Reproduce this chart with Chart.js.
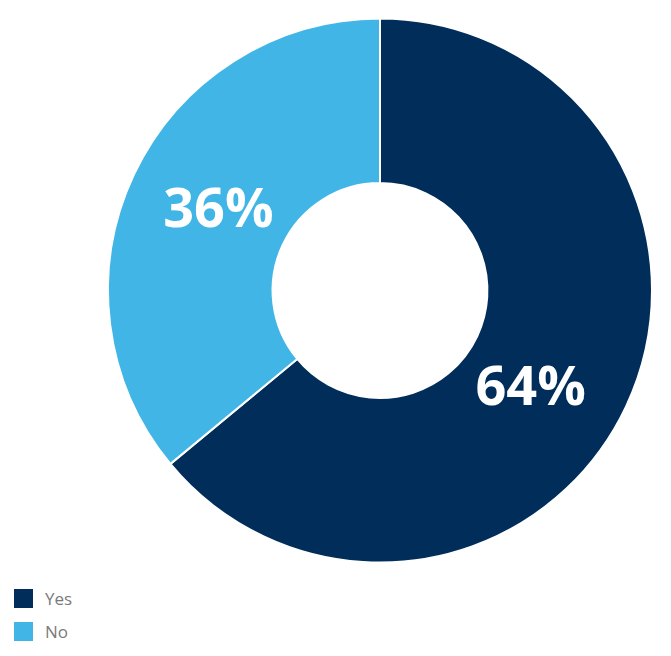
<!DOCTYPE html>
<html>
<head>
<meta charset="utf-8">
<script src="https://cdn.jsdelivr.net/npm/chart.js@4"></script>
<style>
  html, body { margin: 0; padding: 0; background: #fff; }
  #wrap { position: relative; width: 671px; height: 656px; }
  canvas { position: absolute; left: 0; top: 0; }
  #legend { position: absolute; left: 14px; top: 586px; font-family: "Open Sans", sans-serif; font-size: 17px; color: #7a7a7a; }
  .item { display: flex; align-items: center; height: 24px; margin-bottom: 9px; }
  .sw { width: 19px; height: 19px; margin-right: 12px; }
</style>
</head>
<body>
<div id="wrap">
  <canvas id="c" width="671" height="580"></canvas>
  <div id="legend"></div>
</div>
<script>
const categories = ["Yes", "No"];
const values = [64, 36];
const colors = ["#002d5a", "#41b6e6"];

const labelPlugin = {
  id: 'sliceLabels',
  afterDatasetsDraw(chart, args, opts) {
    const ctx = chart.ctx;
    const meta = chart.getDatasetMeta(0);
    const nudges = opts.nudges || [];
    ctx.save();
    ctx.fillStyle = '#ffffff';
    ctx.font = 'bold 54px "Open Sans", sans-serif';
    ctx.textAlign = 'center';
    ctx.textBaseline = 'middle';
    meta.data.forEach((arc, i) => {
      const p = arc.tooltipPosition();
      const n = nudges[i] || [0, 0];
      ctx.fillText(values[i] + '%', p.x + n[0], p.y + n[1]);
    });
    ctx.restore();
  }
};

new Chart(document.getElementById('c'), {
  type: 'doughnut',
  data: {
    labels: categories,
    datasets: [{
      data: values,
      backgroundColor: colors,
      borderColor: '#ffffff',
      borderWidth: 2
    }]
  },
  options: {
    responsive: false,
    animation: false,
    cutout: '39.5%',
    layout: { padding: { left: 107, right: 18, top: 17, bottom: 16 } },
    plugins: {
      legend: { display: false },
      tooltip: { enabled: false },
      sliceLabels: { nudges: [[-21, 18], [10, 2]] }
    }
  },
  plugins: [labelPlugin]
});

const legend = document.getElementById('legend');
categories.forEach((c, i) => {
  const d = document.createElement('div');
  d.className = 'item';
  d.innerHTML = '<span class="sw" style="background:' + colors[i] + '"></span><span>' + c + '</span>';
  legend.appendChild(d);
});
</script>
</body>
</html>
